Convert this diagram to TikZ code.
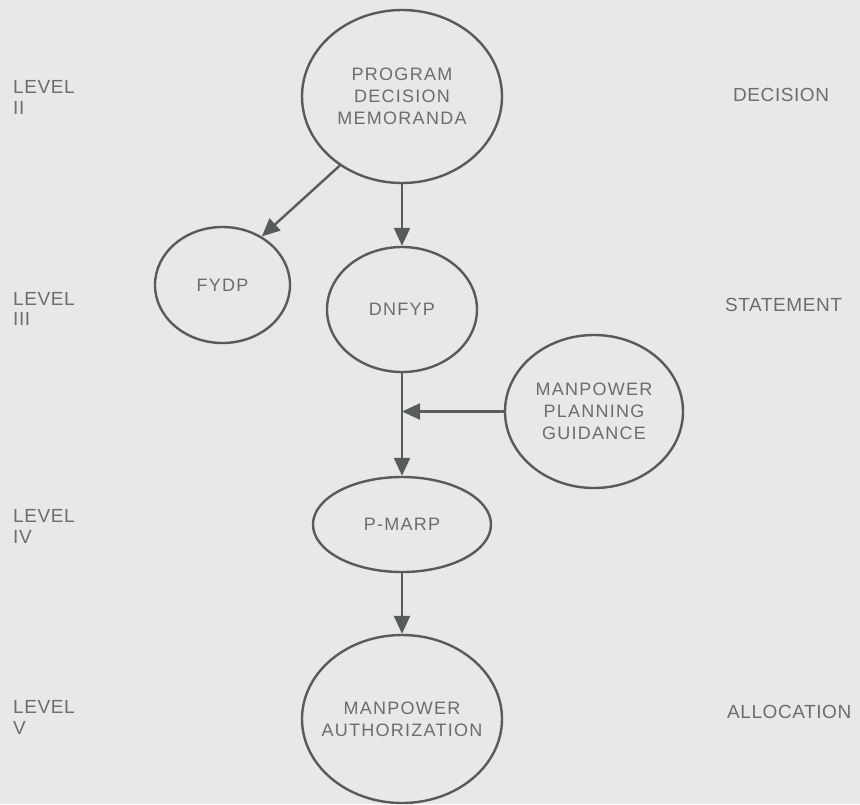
\documentclass[tikz,border=0pt]{standalone}
\usepackage{fontspec}
\setmainfont{Liberation Sans}
\newfontfamily\bubblefont[LetterSpace=7]{Liberation Sans}
\newfontfamily\levelfont[LetterSpace=3]{Liberation Sans}
\usetikzlibrary{shapes.geometric,arrows.meta}
\definecolor{paper}{RGB}{232,232,230}
\definecolor{inkline}{RGB}{88,92,88}
\definecolor{inktext}{RGB}{108,110,108}

\begin{document}
\begin{tikzpicture}[x=1pt,y=-1pt,
  bubble/.style={ellipse,draw=inkline,line width=2.4pt,inner sep=-40pt,align=center,text=inktext,font=\bubblefont\fontsize{18}{22}\selectfont},
  side/.style={align=left,inner sep=0pt,anchor=west,text=inktext,font=\levelfont\fontsize{19}{20.5}\selectfont},
  flow/.style={draw=inkline,line width=2.4pt,-{Triangle[length=18pt,width=16pt]}}]
\fill [paper] (0,0) rectangle (860,804);
\useasboundingbox (0,0) rectangle (860,804);

\node [bubble,minimum width=200pt,minimum height=173pt] (pdm) at (402,96.5) {PROGRAM\\DECISION\\MEMORANDA};
\node [bubble,minimum width=135pt,minimum height=116pt] (fydp) at (222.5,285) {FYDP};
\node [bubble,minimum width=150pt,minimum height=125pt] (dnfyp) at (402,309.5) {DNFYP};
\node [bubble,minimum width=178pt,minimum height=153pt] (mpg) at (594,411.5) {MANPOWER\\PLANNING\\GUIDANCE};
\node [bubble,minimum width=178pt,minimum height=95pt] (pmarp) at (402,524.5) {P-MARP};
\node [bubble,minimum width=200pt,minimum height=168pt] (auth) at (402,719) {MANPOWER\\AUTHORIZATION};

\node [side] (lvlii) at (13,97.5) {LEVEL\\II};
\node [side] (lvliii) at (13,309) {LEVEL\\III};
\node [side] (lvliv) at (13,526.5) {LEVEL\\IV};
\node [side] (lvlv) at (13,717.5) {LEVEL\\V};
\node [side] (decision) at (733,95) {DECISION};
\node [side] (statement) at (725,305) {STATEMENT};
\node [side] (allocation) at (727,711.5) {ALLOCATION};

\coordinate (join) at (dnfyp.south |- mpg.west);
\draw [flow] (pdm.228) -- (fydp.51);
\draw [flow] (pdm.south) -- (dnfyp.north);
\draw [flow] (dnfyp.south) -- (pmarp.north);
\draw [flow] (mpg.west) -- (join);
\draw [flow] (pmarp.south) -- (auth.north);
\end{tikzpicture}
\end{document}
